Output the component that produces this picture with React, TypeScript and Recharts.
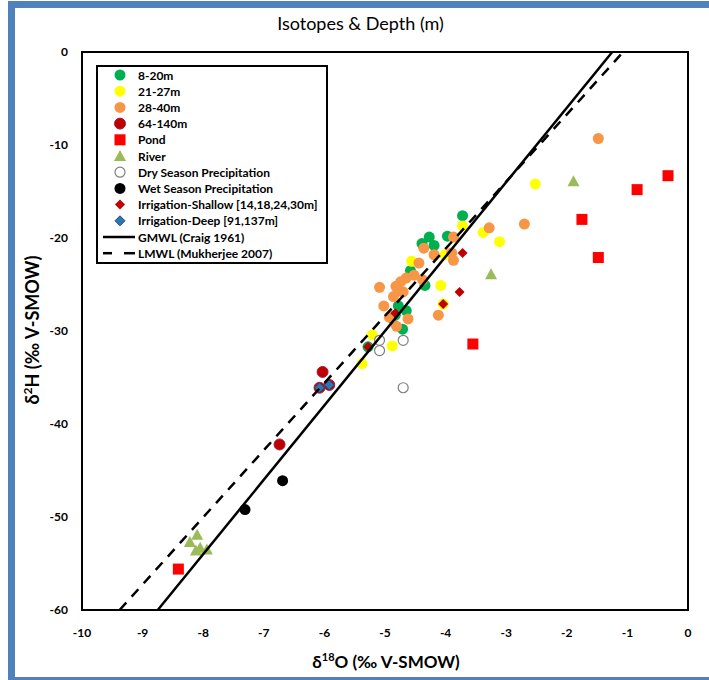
import React from "react";
import { ReferenceArea, Scatter, ScatterChart, XAxis, YAxis } from "recharts";

// δ18O / δ2H pairs, one array per legend entry
const depth8to20 = [
  [-3.72, -17.6], [-4.27, -19.9], [-4.39, -20.6], [-4.19, -20.8], [-3.97, -19.8],
  [-4.58, -23.5], [-4.34, -25.1], [-4.78, -27.3], [-4.65, -27.8], [-4.83, -28.3],
  [-4.89, -28.6], [-4.71, -29.8], [-5.28, -31.7],
];
const depth21to27 = [
  [-2.52, -14.2], [-3.38, -19.4], [-3.11, -20.4], [-3.72, -18.7], [-4.01, -21.8],
  [-4.56, -22.5], [-4.08, -25.1], [-4.04, -27.1], [-5.21, -30.4], [-4.88, -31.6],
  [-5.38, -33.5],
];
const depth28to40 = [
  [-1.48, -9.3], [-2.7, -18.5], [-3.28, -18.9], [-3.87, -19.9], [-4.36, -21.1],
  [-4.19, -21.8], [-3.9, -21.6], [-3.87, -22.4], [-4.44, -22.7], [-4.52, -24.0],
  [-4.65, -24.3], [-4.74, -24.7], [-4.38, -24.5], [-5.09, -25.3], [-4.82, -25.2],
  [-4.76, -25.7], [-4.7, -25.8], [-4.86, -26.3], [-5.02, -27.3], [-4.12, -28.3],
  [-4.62, -28.7], [-4.93, -28.5], [-4.81, -29.5],
];
const depth64to140 = [[-6.03, -34.4], [-6.08, -36.1], [-5.92, -35.8], [-6.74, -42.2]];
const pond = [
  [-8.41, -55.6], [-3.55, -31.4], [-1.75, -18.0], [-1.48, -22.1], [-0.84, -14.8], [-0.33, -13.3],
];
const river = [
  [-8.1, -51.9], [-8.22, -52.7], [-8.05, -53.3], [-7.94, -53.5], [-8.12, -53.6],
  [-3.25, -23.9], [-1.89, -13.9],
];
const dryPrecip = [[-5.09, -31.0], [-5.09, -32.1], [-4.7, -31.0], [-4.7, -36.1]];
const wetPrecip = [[-6.69, -46.1], [-7.31, -49.2]];
const irrShallow = [[-3.72, -21.6], [-3.77, -25.8], [-4.04, -27.1], [-4.83, -28.1], [-5.28, -31.7]];
const irrDeep = [[-6.08, -36.1], [-5.92, -35.8]];
const gmwl = [[-8.75, -60], [-1.25, 0]];
const lmwl = [[-9.38, -60], [-1.07, 0]];

const xTicks = [-10, -9, -8, -7, -6, -5, -4, -3, -2, -1, 0];
const yTicks = [-60, -50, -40, -30, -20, -10, 0];

const toPoints = (rows: number[][]) => rows.map(([x, y]) => ({ x, y }));

type Kind = "circle" | "square" | "triangle" | "diamond" | "open";

const marker = (kind: Kind, fill: string, cx: number, cy: number, stroke?: string) => {
  if (kind === "square") return <rect x={cx - 5.5} y={cy - 5.5} width={11} height={11} fill={fill} />;
  if (kind === "triangle")
    return <polygon points={`${cx},${cy - 6} ${cx + 6},${cy + 5} ${cx - 6},${cy + 5}`} fill={fill} />;
  if (kind === "diamond")
    return (
      <polygon
        points={`${cx},${cy - 5} ${cx + 5},${cy} ${cx},${cy + 5} ${cx - 5},${cy}`}
        fill={fill}
        stroke={stroke ?? "none"}
        strokeWidth={1}
      />
    );
  if (kind === "open") return <circle cx={cx} cy={cy} r={5} fill="#fff" stroke="#7f7f7f" strokeWidth={1.2} />;
  return <circle cx={cx} cy={cy} r={5.5} fill={fill} stroke={stroke ?? "none"} strokeWidth={1} />;
};

const series = [
  { name: "8-20m", data: depth8to20, kind: "circle" as Kind, color: "#00b050" },
  { name: "21-27m", data: depth21to27, kind: "circle" as Kind, color: "#ffff00" },
  { name: "28-40m", data: depth28to40, kind: "circle" as Kind, color: "#f79646" },
  { name: "64-140m", data: depth64to140, kind: "circle" as Kind, color: "#c00000", stroke: "#a02040" },
  { name: "Pond", data: pond, kind: "square" as Kind, color: "#ff0000" },
  { name: "River", data: river, kind: "triangle" as Kind, color: "#9bbb59" },
  { name: "Dry Season Precipitation", data: dryPrecip, kind: "open" as Kind, color: "#fff" },
  { name: "Wet Season Precipitation", data: wetPrecip, kind: "circle" as Kind, color: "#000" },
  { name: "Irrigation-Shallow [14,18,24,30m]", data: irrShallow, kind: "diamond" as Kind, color: "#c00000" },
  { name: "Irrigation-Deep [91,137m]", data: irrDeep, kind: "diamond" as Kind, color: "#2e75b6", stroke: "#1f4e79" },
];

const FONT = "Lato, 'Open Sans', sans-serif";

function XLabel() {
  return (
    <text x={386} y={668} textAnchor="middle" fontFamily={FONT} fontWeight="bold" fontSize={17} fill="#000">
      δ<tspan dy={-7} fontSize={11}>18</tspan>
      <tspan dy={7}>O (‰ V-SMOW)</tspan>
    </text>
  );
}

function YLabel() {
  return (
    <text
      x={33}
      y={336}
      transform="rotate(-90 33 330)"
      textAnchor="middle"
      fontFamily={FONT}
      fontWeight="bold"
      fontSize={18}
      fill="#000"
    >
      δ<tspan dy={-7} fontSize={12}>2</tspan>
      <tspan dy={7}>H (‰ V-SMOW)</tspan>
    </text>
  );
}

function LegendBox() {
  return (
    <svg width={232} height={199} style={{ position: "absolute", left: 96, top: 65 }}>
      <rect x={1} y={1} width={230} height={197} fill="#fff" stroke="#000" strokeWidth={2} />
      {series.map((s, i) => {
        const cy = 10 + i * 16.2;
        return (
          <g key={s.name}>
            {marker(s.kind, s.color, 24, cy, s.stroke)}
            <text x={42} y={cy} dominantBaseline="central" fontFamily={FONT} fontWeight="bold" fontSize={12} fill="#000">
              {s.name}
            </text>
          </g>
        );
      })}
      <line x1={7} x2={39} y1={10 + 10 * 16.2} y2={10 + 10 * 16.2} stroke="#000" strokeWidth={2.5} />
      <text x={42} y={10 + 10 * 16.2} dominantBaseline="central" fontFamily={FONT} fontWeight="bold" fontSize={12}>
        GMWL (Craig 1961)
      </text>
      <line x1={7} x2={16} y1={10 + 11 * 16.2} y2={10 + 11 * 16.2} stroke="#000" strokeWidth={2.5} />
      <line x1={28} x2={39} y1={10 + 11 * 16.2} y2={10 + 11 * 16.2} stroke="#000" strokeWidth={2.5} />
      <text x={42} y={10 + 11 * 16.2} dominantBaseline="central" fontFamily={FONT} fontWeight="bold" fontSize={12}>
        LMWL (Mukherjee 2007)
      </text>
    </svg>
  );
}

export default function App() {
  return (
    <div style={{ position: "relative", width: 709, height: 680, background: "#fff", overflow: "hidden" }}>
      <style>{"html,body{margin:0;overflow:hidden}"}</style>
      <ScatterChart width={709} height={680} margin={{ top: 52, right: 21, bottom: 30, left: 0 }}>
        <XAxis
          type="number"
          dataKey="x"
          domain={[-10, 0]}
          ticks={xTicks}
          interval={0}
          axisLine={false}
          tickLine={false}
          tickMargin={12}
          height={40}
          tick={{ fill: "#000", fontSize: 12, fontWeight: "bold", fontFamily: FONT }}
          label={{ content: () => <XLabel /> }}
        />
        <YAxis
          type="number"
          dataKey="y"
          domain={[-60, 0]}
          ticks={yTicks}
          interval={0}
          axisLine={false}
          tickLine={false}
          tickMargin={8}
          width={82}
          tick={{ fill: "#000", fontSize: 12, fontWeight: "bold", fontFamily: FONT }}
          label={{ content: () => <YLabel /> }}
        />
        <ReferenceArea x1={-10} x2={0} y1={-60} y2={0} fill="none" stroke="#000" strokeWidth={2} ifOverflow="visible" />
        {series.map((s) => (
          <Scatter
            key={s.name}
            name={s.name}
            data={toPoints(s.data)}
            isAnimationActive={false}
            shape={(p: any) => marker(s.kind, s.color, p.cx, p.cy, s.stroke)}
          />
        ))}
        <Scatter
          name="GMWL (Craig 1961)"
          data={toPoints(gmwl)}
          line={{ stroke: "#000", strokeWidth: 2.5 }}
          shape={() => <g />}
          isAnimationActive={false}
        />
        <Scatter
          name="LMWL (Mukherjee 2007)"
          data={toPoints(lmwl)}
          line={{ stroke: "#000", strokeWidth: 2.5, strokeDasharray: "10 8" }}
          shape={() => <g />}
          isAnimationActive={false}
        />
      </ScatterChart>
      <div
        style={{
          position: "absolute",
          left: 0,
          top: 12,
          width: 709,
          textAlign: "center",
          paddingLeft: 12,
          boxSizing: "border-box",
          fontFamily: FONT,
          fontSize: 18,
          color: "#000",
        }}
      >
        Isotopes &amp; Depth (m)
      </div>
      <LegendBox />
      <div
        style={{
          position: "absolute",
          left: 8,
          top: 1,
          width: 701,
          height: 679,
          boxSizing: "border-box",
          borderLeft: "7px solid #4f81bd",
          borderTop: "7px solid #4f81bd",
          borderBottom: "3px solid #4f81bd",
          pointerEvents: "none",
        }}
      />
    </div>
  );
}
